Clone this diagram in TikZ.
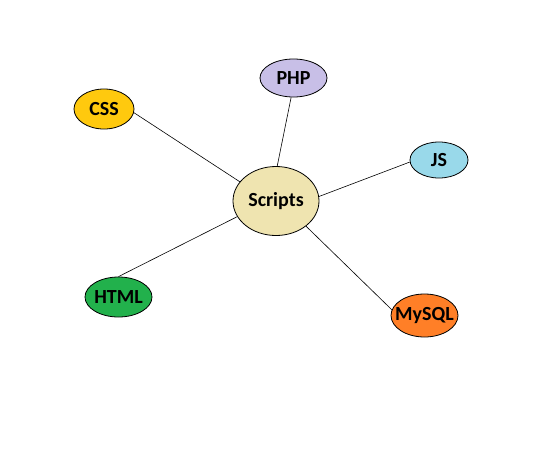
\documentclass[tikz,border=0pt]{standalone}
\usepackage{fontspec}
\setmainfont{Carlito}
\usetikzlibrary{shapes.geometric}
\definecolor{tan}{HTML}{EFE4B0}
\definecolor{lav}{HTML}{C8BFE7}
\definecolor{gold}{HTML}{FFC90E}
\definecolor{turq}{HTML}{99D9EA}
\definecolor{grn}{HTML}{22B14C}
\definecolor{orng}{HTML}{FF7F27}
\newcommand{\ztext}[1]{\makebox[0pt]{#1}}
\tikzset{
  bubble/.style={ellipse, draw=black, line width=0.8pt, inner sep=0pt, font=\bfseries\fontsize{20}{24}\selectfont},
  link/.style={draw=black, line width=0.6pt}
}
\begin{document}
\begin{tikzpicture}[x=1pt,y=-1pt]
\useasboundingbox (0,0) rectangle (553,460);
\node[bubble, fill=tan, minimum width=86pt, minimum height=69pt] (scripts) at (276,201) {\ztext{Scripts}};
\node[bubble, fill=lav, minimum width=67pt, minimum height=38pt] (php) at (293.5,78) {\ztext{PHP}};
\node[bubble, fill=gold, minimum width=60pt, minimum height=40pt] (css) at (104,109) {\ztext{CSS}};
\node[bubble, fill=turq, minimum width=58pt, minimum height=36pt] (js) at (439,160) {\ztext{JS}};
\node[bubble, fill=grn, minimum width=67pt, minimum height=40pt] (html) at (118.5,297) {\ztext{HTML}};
\node[bubble, fill=orng, minimum width=67pt, minimum height=43pt] (mysql) at (424.5,315.5) {\ztext{MySQL}};
\draw[link] (css.-7.6) -- (scripts.152);
\draw[link] (php.-97.5) -- (scripts.88);
\draw[link] (js.184) -- (scripts.6.6);
\draw[link] (html.90) -- (scripts.202);
\draw[link] (mysql.170) -- (scripts.-40);
\end{tikzpicture}
\end{document}
